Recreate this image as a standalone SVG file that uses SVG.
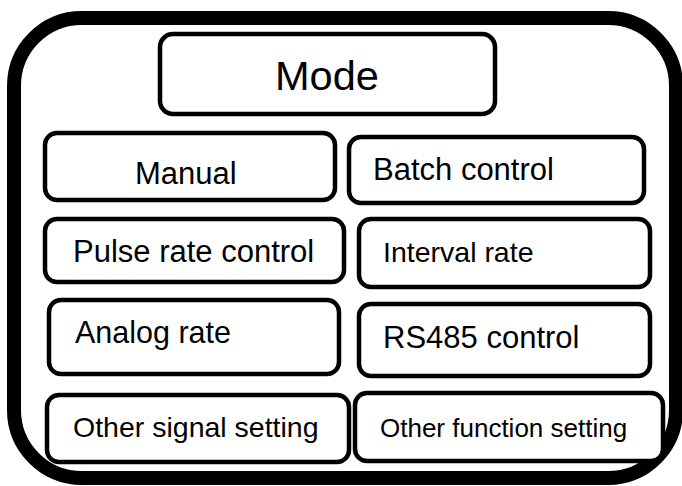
<svg xmlns="http://www.w3.org/2000/svg" width="682" height="486" viewBox="0 0 682 486">
<style>
.frame{fill:none;stroke:#000;stroke-width:14}
.box{fill:#fff;stroke:#000;stroke-width:4.5}
.t{font-family:"Liberation Sans",Arial,sans-serif;fill:#000}
</style>
<rect width="682" height="486" fill="#fff"/>
<g id="frame"><rect class="frame" x="14" y="18" width="662" height="460" rx="68" ry="68"/></g>
<g id="mode"><rect class="box" x="160" y="34" width="335" height="80" rx="13"/><text class="t" x="275" y="90" font-size="41.5">Mode</text></g>
<g id="manual"><rect class="box" x="45" y="133" width="290" height="67" rx="12"/><text class="t" x="135" y="184" font-size="31">Manual</text></g>
<g id="batch"><rect class="box" x="349" y="137" width="295" height="66" rx="12"/><text class="t" x="373" y="180" font-size="31">Batch control</text></g>
<g id="pulse"><rect class="box" x="45" y="219" width="299" height="63" rx="12"/><text class="t" x="73" y="262" font-size="31">Pulse rate control</text></g>
<g id="interval"><rect class="box" x="359" y="219" width="291" height="68" rx="12"/><text class="t" x="383" y="262" font-size="28.5">Interval rate</text></g>
<g id="analog"><rect class="box" x="49" y="300" width="290" height="74" rx="12"/><text class="t" x="75" y="343" font-size="30.5">Analog rate</text></g>
<g id="rs485"><rect class="box" x="359" y="304" width="291" height="72" rx="12"/><text class="t" x="383" y="348" font-size="31">RS485 control</text></g>
<g id="othersignal"><rect class="box" x="47" y="395" width="302" height="67" rx="12"/><text class="t" x="73" y="437" font-size="28.5">Other signal setting</text></g>
<g id="otherfunction"><rect class="box" x="355" y="393" width="308" height="68" rx="12"/><text class="t" x="380" y="437" font-size="26">Other function setting</text></g>
<g id="connectors"></g>
</svg>
